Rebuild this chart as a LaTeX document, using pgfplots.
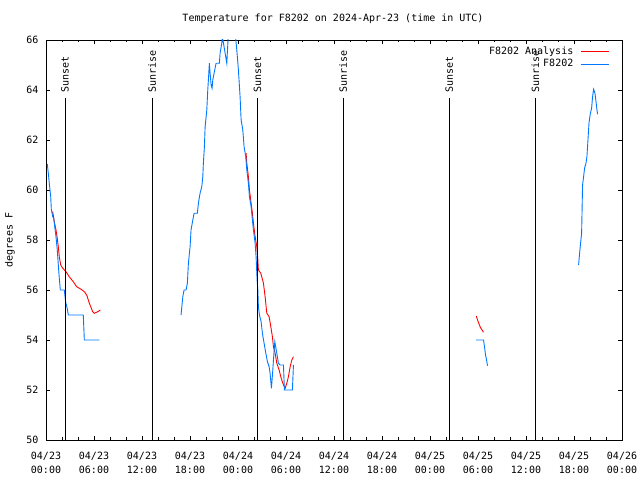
\documentclass[border=0pt]{standalone}
\usepackage{pgfplots}
\pgfplotsset{compat=1.18}
\usepackage{fontspec}
\setmainfont{DejaVu Sans Mono}
\definecolor{gred}{RGB}{255,0,0}
\definecolor{gblue}{RGB}{0,120,255}
\newcommand{\gfont}{\fontsize{10bp}{14bp}\selectfont}
\begin{document}
\begin{tikzpicture}[x=1bp,y=1bp]
\useasboundingbox (0,0) rectangle (640,480);
\node[font=\gfont] at (333,461) {Temperature for F8202 on 2024-Apr-23 (time in UTC)};
\node[font=\gfont, rotate=90] at (10,240) {degrees F};
\begin{axis}[
  at={(46bp,40bp)}, anchor=south west,
  width=576bp, height=400bp, scale only axis,
  xmin=0, xmax=72, ymin=50, ymax=66,
  xtick={0,6,...,72}, minor x tick num=2,
  xticklabels={{04/23\\00:00},{04/23\\06:00},{04/23\\12:00},{04/23\\18:00},{04/24\\00:00},{04/24\\06:00},{04/24\\12:00},{04/24\\18:00},{04/25\\00:00},{04/25\\06:00},{04/25\\12:00},{04/25\\18:00},{04/26\\00:00}},
  xticklabel style={align=center, font=\gfont, yshift=-9bp},
  ytick={50,52,...,66},
  yticklabel style={font=\gfont, xshift=-4bp},
  /pgf/number format/assume math mode=true,
  tick align=inside,
  major tick length=4bp, minor tick length=2.5bp,
  tick style={black, line width=0.8bp},
  axis line style={line width=0.8bp},
  legend style={draw=none, fill=none, at={(rel axis cs:0.979,0.985)}, anchor=north east, font=\gfont, inner sep=0pt, row sep=1.5bp, column sep=7bp, nodes={inner sep=0.5bp, text height=7.5bp, text depth=2.5bp}},
  legend cell align=right,
  legend plot pos=right,
]
% Analysis (red)
\addplot[gred, line width=0.9bp, legend image code/.code={\draw[gred, line width=0.9bp] (0bp,0bp) -- (28bp,0bp);}] coordinates {
(0.71,59.12) (0.84,59.12) (1.04,58.73) (1.25,58.4) (1.38,58.13) (1.54,57.73) (1.66,57.33) (1.84,57.0) (2.09,56.87) (2.5,56.73) (2.91,56.53) (3.41,56.33) (3.84,56.13) (4.38,56.03) (4.79,55.93) (5.09,55.8) (5.42,55.47) (5.84,55.13) (6.04,55.07) (6.47,55.13) (6.79,55.2)
};
\addlegendentry{F8202 Analysis}
% Observed (blue)
\addplot[gblue, line width=0.9bp, legend image code/.code={\draw[gblue, line width=0.9bp] (0bp,0bp) -- (28bp,0bp);}] coordinates {
(0.16,61.04) (0.29,60.67) (0.41,60.27) (0.59,59.73) (0.66,59.24) (0.84,58.93) (0.96,58.88) (1.25,58.13) (1.41,57.6) (1.54,57.0) (1.66,56.48) (1.79,56.0) (2.29,56.0) (2.46,55.5) (2.63,55.3) (2.79,55.0) (4.66,55.0) (4.79,54.0) (6.67,54.0)
};
\addlegendentry{F8202}
\addplot[gred, line width=0.9bp, forget plot] coordinates {
(25.01,61.47) (25.10,61.07) (25.30,60.53) (25.43,60.0) (25.64,59.47) (25.80,59.07) (25.93,58.67) (26.14,58.13) (26.35,57.73) (26.48,57.2) (26.55,56.8) (26.85,56.67) (27.18,56.27) (27.39,55.73) (27.60,55.07) (27.89,54.93) (28.10,54.53) (28.30,54.13) (28.43,53.73) (28.64,53.47) (28.85,53.07) (29.14,52.8) (29.35,52.53) (29.60,52.27) (29.89,52.07) (30.10,52.27) (30.30,52.53) (30.52,52.93) (30.73,53.2) (30.93,53.33)
};
\addplot[gblue, line width=0.9bp, forget plot] coordinates {
(16.88,55.0) (17.10,55.73) (17.26,56.0) (17.51,56.0) (17.67,56.27) (17.80,57.07) (18.01,57.73) (18.13,58.4) (18.35,58.8) (18.51,59.07) (18.92,59.07) (19.05,59.47) (19.26,59.87) (19.47,60.13) (19.60,60.53) (19.67,61.07) (19.80,61.73) (19.89,62.53) (20.10,63.2) (20.22,64.0) (20.30,64.4) (20.42,65.07) (20.51,64.67) (20.64,64.2) (20.76,64.07) (20.85,64.4) (21.01,64.67) (21.26,65.07) (21.67,65.07) (21.76,65.47) (21.97,65.87) (22.05,66.1) (22.17,65.9) (22.39,65.47) (22.60,65.07) (22.80,66.3) (23.64,66.3) (23.85,65.6) (24.05,64.8) (24.26,63.73) (24.39,62.8) (24.60,62.4) (24.76,61.73) (24.97,61.33) (25.10,60.8) (25.30,60.27) (25.43,59.73) (25.64,59.33) (25.76,58.93) (25.93,58.4) (26.14,57.87) (26.26,57.33) (26.39,56.4) (26.48,56.0) (26.55,55.33) (26.68,55.0) (26.89,54.73) (27.05,54.27) (27.26,53.87) (27.48,53.47) (27.68,53.13) (27.89,52.93) (28.01,52.67) (28.18,52.07) (28.35,52.8) (28.43,53.2) (28.60,53.93) (28.85,53.47) (29.05,53.07) (29.26,53.0) (29.68,53.0) (29.80,52.0) (30.80,52.0) (30.93,53.0)
};
\addplot[gred, line width=0.9bp, forget plot] coordinates {
(53.78,54.96) (54.0,54.75) (54.3,54.5) (54.69,54.31)
};
\addplot[gblue, line width=0.9bp, forget plot] coordinates {
(53.78,54.0) (54.69,54.0) (54.81,53.73) (54.94,53.4) (55.07,53.2) (55.19,52.97)
};
\addplot[gblue, line width=0.9bp, forget plot] coordinates {
(66.57,57.0) (66.70,57.47) (66.82,57.87) (66.95,58.27) (67.0,59.07) (67.07,60.2) (67.20,60.53) (67.32,60.87) (67.50,61.07) (67.62,61.36) (67.75,62.03) (67.87,62.67) (68.03,63.04) (68.20,63.27) (68.32,63.73) (68.45,64.03) (68.62,63.87) (68.75,63.53) (68.87,63.2) (68.95,63.03)
};
% sunrise / sunset lines
\addplot[black, line width=0.8bp, forget plot] coordinates {(2.38,50) (2.38,63.68)};
\addplot[black, line width=0.8bp, forget plot] coordinates {(13.26,50) (13.26,63.68)};
\addplot[black, line width=0.8bp, forget plot] coordinates {(26.45,50) (26.45,63.68)};
\addplot[black, line width=0.8bp, forget plot] coordinates {(37.14,50) (37.14,63.68)};
\addplot[black, line width=0.8bp, forget plot] coordinates {(50.40,50) (50.40,63.68)};
\addplot[black, line width=0.8bp, forget plot] coordinates {(61.16,50) (61.16,63.68)};
\node[rotate=90, anchor=west, font=\gfont, inner sep=0pt] at (axis cs:2.38,63.88) {Sunset};
\node[rotate=90, anchor=west, font=\gfont, inner sep=0pt] at (axis cs:13.26,63.88) {Sunrise};
\node[rotate=90, anchor=west, font=\gfont, inner sep=0pt] at (axis cs:26.45,63.88) {Sunset};
\node[rotate=90, anchor=west, font=\gfont, inner sep=0pt] at (axis cs:37.14,63.88) {Sunrise};
\node[rotate=90, anchor=west, font=\gfont, inner sep=0pt] at (axis cs:50.40,63.88) {Sunset};
\node[rotate=90, anchor=west, font=\gfont, inner sep=0pt] at (axis cs:61.16,63.88) {Sunrise};
\end{axis}
\end{tikzpicture}
\end{document}
